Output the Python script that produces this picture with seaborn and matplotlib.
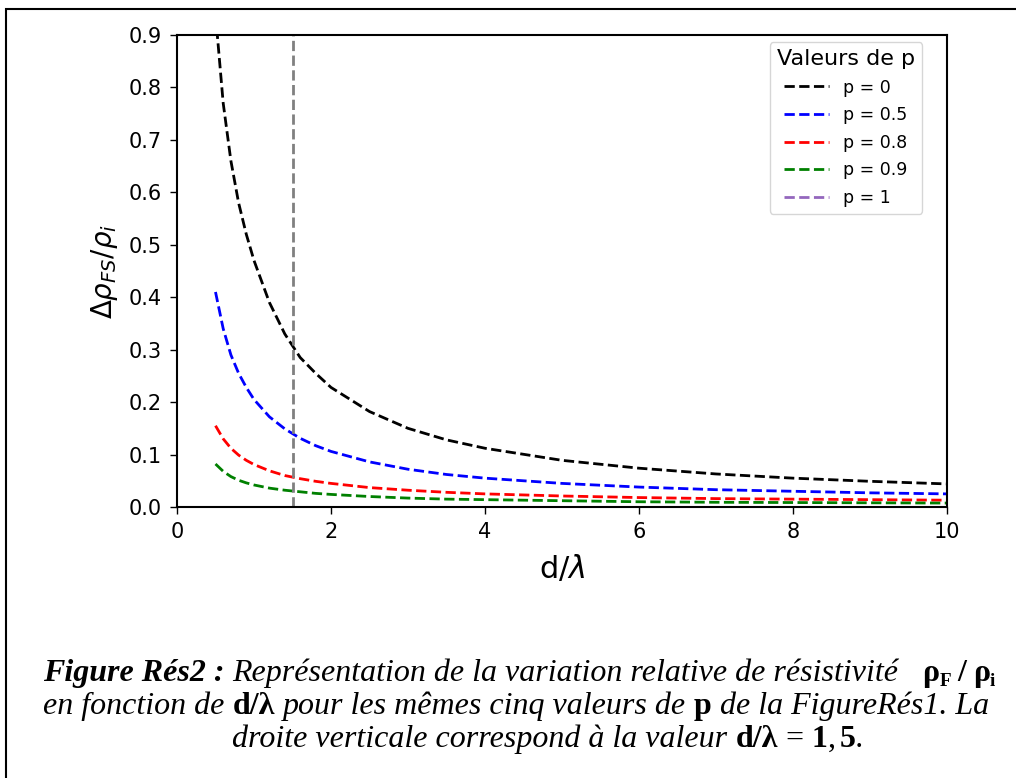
import numpy as np
import pandas as pd
import matplotlib
matplotlib.use("Agg")
import matplotlib.pyplot as plt
import seaborn as sns
from matplotlib.patches import Rectangle

# ---------------- data ----------------
d_values = [0.5, 0.6, 0.7, 0.8, 0.9, 1.0, 1.2, 1.4, 1.6, 1.8, 2.0,
            2.5, 3.0, 3.5, 4.0, 5.0, 6.0, 7.0, 8.0, 9.0, 10.0]
p_labels = ["p = 0", "p = 0.5", "p = 0.8", "p = 0.9", "p = 1"]
rho_p0 = [0.94, 0.77, 0.66, 0.58, 0.52, 0.47, 0.39, 0.33, 0.285, 0.255, 0.228,
          0.182, 0.150, 0.128, 0.112, 0.089, 0.074, 0.063, 0.055, 0.049, 0.044]
rho_p05 = [0.41, 0.34, 0.29, 0.255, 0.228, 0.205, 0.172, 0.149, 0.131, 0.117, 0.106,
           0.086, 0.072, 0.062, 0.055, 0.045, 0.038, 0.033, 0.030, 0.027, 0.025]
rho_p08 = [0.155, 0.13, 0.112, 0.099, 0.089, 0.081, 0.069, 0.060, 0.054, 0.049, 0.045,
           0.037, 0.032, 0.028, 0.025, 0.021, 0.018, 0.016, 0.015, 0.014, 0.013]
rho_p09 = [0.082, 0.068, 0.058, 0.051, 0.046, 0.042, 0.036, 0.032, 0.029, 0.026, 0.024,
           0.020, 0.017, 0.015, 0.014, 0.012, 0.010, 0.009, 0.0085, 0.008, 0.0075]
rho_p1 = [0.0] * len(d_values)
series = [rho_p0, rho_p05, rho_p08, rho_p09, rho_p1]
colors = ["black", "blue", "red", "green", "tab:purple"]
d_vertical = 1.5
x_ticks = [0, 2, 4, 6, 8, 10]
y_ticks = [0.0, 0.1, 0.2, 0.3, 0.4, 0.5, 0.6, 0.7, 0.8, 0.9]

W, H = 1016, 778
fig = plt.figure(figsize=(W / 100, H / 100), dpi=100)
ax = fig.add_axes([177 / W, 1 - 507 / H, 770 / W, 472 / H])

for lab, vals, c in zip(p_labels, series, colors):
    df = pd.DataFrame({"d": d_values, "rho": vals})
    sns.lineplot(data=df, x="d", y="rho", color=c, linestyle="--",
                 linewidth=2, label=lab, ax=ax)

ax.axvline(d_vertical, color="grey", linestyle="--", linewidth=2)
ax.set_xlim(0, 10)
ax.set_ylim(0, 0.9)
ax.set_xticks(x_ticks)
ax.set_xticklabels([str(t) for t in x_ticks])
ax.set_yticks(y_ticks)
ax.set_yticklabels([f"{t:.1f}" for t in y_ticks])
ax.tick_params(labelsize=15, length=5, width=1, pad=6)
for s in ax.spines.values():
    s.set_linewidth(1.5)
ax.set_xlabel(r"d/$\lambda$", fontsize=22, labelpad=8)
ax.set_ylabel(r"$\Delta\rho_{FS}/\rho_i$", fontsize=20, labelpad=6)

ax.legend(title="Valeurs de p", fontsize=12.5, title_fontsize=16,
          loc="upper right", bbox_to_anchor=(0.9675, 0.985),
          borderaxespad=0, handlelength=2.6, labelspacing=0.55)

# frame around figure
fig.add_artist(Rectangle((6 / W, -0.1), 2, (H - 9) / H + 0.1, fill=False,
                         edgecolor="black", linewidth=1.5,
                         transform=fig.transFigure))

# ---------------- caption ----------------
serif = ["Liberation Serif", "DejaVu Serif"]
FS = 23
sp = 0.25 * FS * 100 / 72
it = dict(family=serif, style="italic", fontsize=FS)
bi = dict(family=serif, style="italic", weight="bold", fontsize=FS)
bd = dict(family=serif, weight="bold", fontsize=FS)
bds = dict(family=serif, weight="bold", fontsize=FS * 0.6)
rg = dict(family=serif, fontsize=FS)

renderer = fig.canvas.get_renderer()


def place_line(parts, base_y, center_x):
    items = []
    for s, kw, dy, gap in parts:
        t = fig.text(0, 0, s, ha="left", va="baseline", **kw)
        w = t.get_window_extent(renderer).width
        items.append((t, w, dy, gap))
    total = sum(w + g for _, w, _, g in items) - items[-1][3]
    x = center_x - total / 2
    for t, w, dy, g in items:
        t.set_position((x / W, 1 - (base_y + dy) / H))
        x += w + g


line1 = [("Figure Rés2 :", bi, 0, sp),
         ("Représentation de la variation relative de résistivité", it, 0, 3 * sp),
         ("ρ", bd, 0, 0), ("F", bds, 5, 0.8 * sp),
         ("/", bd, 0, 0.8 * sp),
         ("ρ", bd, 0, 0), ("i", bds, 5, 0)]
line2 = [("en fonction de", it, 0, sp), ("d/λ", bd, 0, sp),
         ("pour les mêmes cinq valeurs de", it, 0, sp), ("p", bd, 0, sp),
         ("de la FigureRés1. La", it, 0, 0)]
line3 = [("droite verticale correspond à la valeur", it, 0, sp),
         ("d/λ", bd, 0, sp), ("=", rg, 0, sp),
         ("1", bd, 0, 0), (",", rg, 0, 0.5 * sp), ("5", bd, 0, 0),
         (".", it, 0, 0)]
place_line(line1, 681, 519)
place_line(line2, 714, 516)
place_line(line3, 747, 548)

fig.savefig("out.png", dpi=100)
